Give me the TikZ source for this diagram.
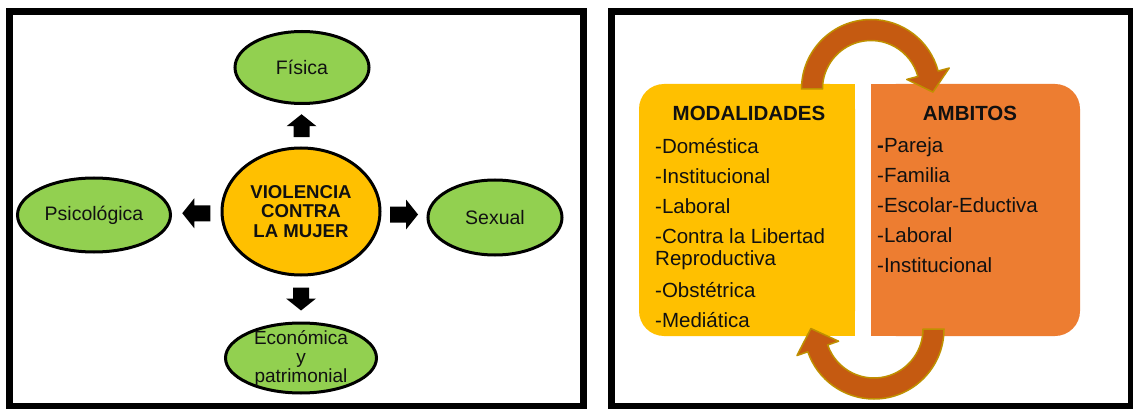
\documentclass[tikz,border=0pt]{standalone}
\usepackage{fontspec}
\setmainfont{Liberation Sans}
\usetikzlibrary{positioning,calc,shapes.geometric}
\definecolor{ink}{HTML}{111111}
\definecolor{leaf}{HTML}{92D050}
\definecolor{sun}{HTML}{FFC000}
\definecolor{clay}{HTML}{ED7D31}
\definecolor{rust}{HTML}{C55A11}
\definecolor{ochre}{HTML}{BF9000}
\tikzset{
  bubble/.style={ellipse,draw=black,line width=3pt,fill=leaf,inner sep=0pt,
    text=ink,font=\fontsize{19.5}{21}\selectfont},
  core text/.style={align=center,text=ink,inner sep=0pt,
    font=\bfseries\fontsize{18.6}{19.5}\selectfont},
  eco text/.style={align=center,text=ink,inner sep=0pt,
    font=\fontsize{19}{19}\selectfont},
  head text/.style={text=ink,inner sep=0pt,anchor=base,
    font=\bfseries\fontsize{20.5}{24}\selectfont},
  list text/.style={align=left,text=ink,inner sep=0pt,anchor=base west,
    font=\fontsize{20.5}{30}\selectfont},
  loop arrow/.style={fill=rust,draw=ochre,line width=1.5pt,line join=round},
  pics/blockarr/.style={code={
    \fill[black] (-#1,-8) -- (#1-12,-8) -- (#1-12,-15) -- (#1,0)
      -- (#1-12,15) -- (#1-12,8) -- (-#1,8) -- cycle;}}
}

\begin{document}
\begin{tikzpicture}[x=1pt,y=-1pt]
    \useasboundingbox (0,0) rectangle (1133,409);
    \fill[white] (0,0) rectangle (1133,409);

    \node[bubble,fill=sun,minimum width=158pt,minimum height=127pt] (viol) at (301,211.5) {};
    \node[core text] (violtxt) at (viol) {VIOLENCIA\\CONTRA\\LA MUJER};
    \node[bubble,minimum width=134pt,minimum height=72pt] (fisica) at (302,67.5) {Física};
    \node[bubble,minimum width=153pt,minimum height=74pt] (psico) at (94,215) {Psicológica};
    \node[bubble,minimum width=134pt,minimum height=75pt] (sexual) at (495,217.5) {Sexual};
    \node[bubble,minimum width=151pt,minimum height=70pt] (econ) at (301,358) {};
    \node[eco text] (econtxt) at (econ) {Económica\\y\\patrimonial};

    \pic[rotate=90] at ($(viol.north)!0.5!(fisica.south)$) {blockarr=11.5};
    \pic[rotate=-90] at ($(viol.south)!0.5!(econ.north)$) {blockarr=11.5};
    \pic[rotate=180] at ($(viol.west)!0.5!(psico.east)$) {blockarr=14};
    \pic at ($(viol.east)!0.5!(sexual.west)$) {blockarr=14};

    \fill[sun,rounded corners=25pt] (639,84) rectangle (855,336);
    \fill[sun] (800,84) rectangle (855,336);
    \fill[clay,rounded corners=25pt] (871,84) rectangle (1080,336);
    \fill[clay] (871,84) rectangle (920,336);

    \node[head text] (modhead) at (749,120.5) {MODALIDADES};
    \node[list text] (modlist) at (655,327) {-Doméstica\\-Institucional\\-Laboral\\
      -Contra la Libertad\\[-8pt]Reproductiva\\[2pt]-Obstétrica\\-Mediática};
    \node[head text] (ambhead) at (970,120.5) {AMBITOS};
    \node[list text] (amblist) at (877,272) {\textbf{-}Pareja\\-Familia\\-Escolar-Eductiva\\
      -Laboral\\-Institucional};

    \coordinate (ctop) at (871,89);
    \coordinate (cbot) at (874,329);
    \filldraw[loop arrow] ($(ctop)+(180:69.5)$) arc[start angle=180,end angle=345,radius=69.5]
      -- ($(ctop)+(345:81)$) -- ($(ctop)+(345:59)+(75:19)$) -- ($(ctop)+(345:37)$)
      -- ($(ctop)+(345:48.5)$) arc[start angle=345,end angle=180,radius=48.5] -- cycle;
    \filldraw[loop arrow] ($(cbot)+(0:70)$) arc[start angle=0,end angle=161,radius=70]
      -- ($(cbot)+(161:81.5)$) -- ($(cbot)+(161:59.5)+(251:21)$) -- ($(cbot)+(161:37.5)$)
      -- ($(cbot)+(161:49)$) arc[start angle=161,end angle=0,radius=49] -- cycle;

    \draw[line width=7pt] (9.5,11.5) rectangle (583.5,406.5);
    \draw[line width=7pt] (611.5,11.5) rectangle (1131.5,406.5);
  \end{tikzpicture}
\end{document}
